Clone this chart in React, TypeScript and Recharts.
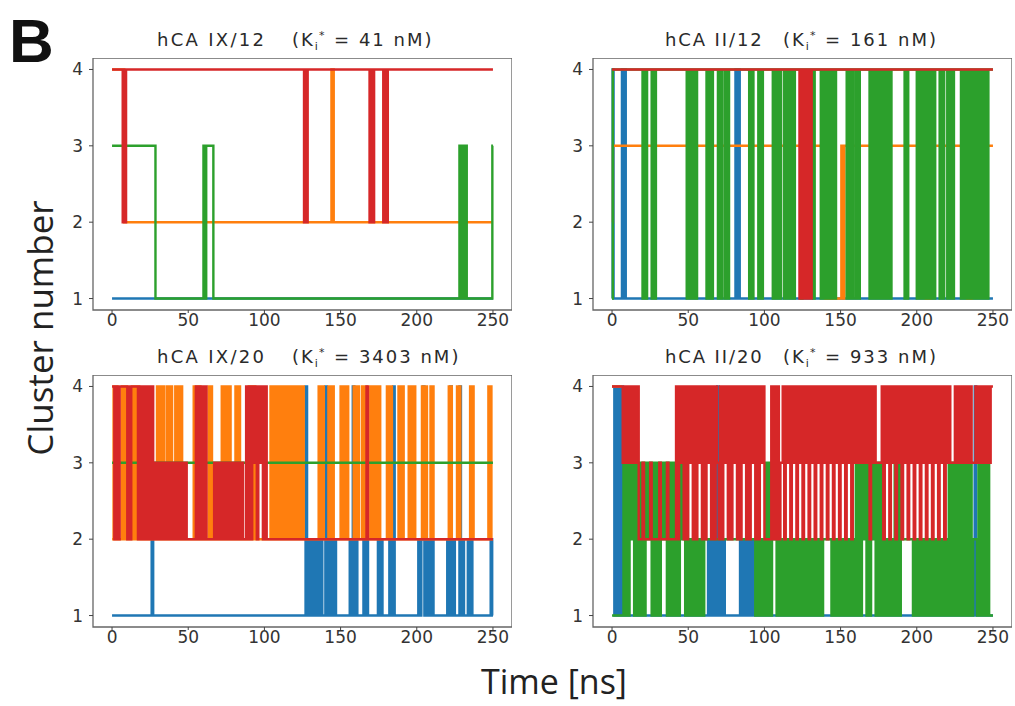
import React from 'react';
import { LineChart, Line, XAxis, YAxis, ReferenceArea } from 'recharts';

type Pt = [number, number];

// axis ticks and series colours (matplotlib tab10 order: blue, orange, green, red)
const xTicks = [0, 50, 100, 150, 200, 250];
const yTicks = [1, 2, 3, 4];
const seriesColors = ['#1f77b4', '#ff7f0e', '#2ca02c', '#d62728'];

const panelNames = ['hCA IX/12', 'hCA II/12', 'hCA IX/20', 'hCA II/20'];
const panelKi = ['41', '161', '3403', '933'];

// cluster number vs time [ns], change points [t, cluster]
// --- hCA IX/12
const ix12Blue: Pt[] = [[0, 1], [250, 1]];
const ix12Orange: Pt[] = [[0, 4], [8, 2], [144, 4], [145.5, 2], [250, 2]];
const ix12Green: Pt[] = [
  [0, 3], [28.5, 1], [60, 3], [61, 1], [61.8, 3], [66.5, 1], [228, 3], [229, 1], [230, 3], [231, 1],
  [232, 3], [232.8, 1], [249.6, 3], [250, 3],
];
const ix12Red: Pt[] = [
  [0, 4], [7, 2], [8, 4], [8.6, 2], [9.2, 4], [126, 2], [127, 4], [127.6, 2], [128.4, 4], [169, 2],
  [170, 4], [171, 2], [172, 4], [178, 2], [179, 4], [180, 2], [181, 4], [250, 4],
];

// --- hCA II/12
const ii12Blue: Pt[] = [
  [0, 1], [0.4, 4], [1, 1], [6.5, 4], [7.3, 1], [8, 4], [9, 1], [81, 4], [82, 1], [82.8, 4], [83.8, 1], [250, 1],
];
const ii12Orange: Pt[] = [
  [0, 2], [0.6, 3], [140, 1], [141, 3], [142, 1], [150.5, 3], [151.5, 1], [152.5, 3], [206, 1], [207, 3],
  [208, 1], [209, 3], [233, 1], [234, 3], [235, 1], [236, 3], [250, 3],
];
const ii12Green: Pt[] = [
  [0, 1], [0.5, 4], [20, 1], [21, 4], [22, 1], [23, 4], [26, 1], [27, 4], [28, 1], [28.8, 4],
  [49, 1], [50, 4], [51, 1], [52, 4], [53, 1], [54, 4], [55, 1], [55.8, 4],
  [62, 1], [63, 4], [63.8, 1], [64.6, 4], [65.4, 1], [66.2, 4], [69.5, 1], [70.5, 4], [71.5, 1], [72.3, 4],
  [74, 1], [75, 4], [76, 1], [76.8, 4], [90, 1], [91, 4], [92, 1], [92.8, 4], [96, 1], [97, 4], [98, 1], [99, 4],
  [105.5, 1], [106.3, 4], [107, 1], [107.8, 4], [108.5, 1], [109.3, 4], [110, 1], [111, 4], [113, 1], [113.8, 4],
  [114.5, 1], [115.3, 4], [116, 1], [116.8, 4], [117.5, 1], [118.3, 4], [119, 1], [120, 4],
  [124, 1], [125, 4], [132, 1], [133, 4],
  [137, 1], [137.8, 4], [138.5, 1], [139.3, 4], [140, 1], [140.8, 4], [141.5, 1], [142.3, 4], [143, 1], [143.8, 4],
  [144.5, 1], [145.3, 4], [146, 1], [147, 4], [154, 1], [155, 4], [156, 1], [157, 4], [157.6, 1], [158.4, 4],
  [160, 1], [161, 4], [161.8, 1], [162.6, 4],
  [169, 1], [169.8, 4], [170.5, 1], [171.3, 4], [172, 1], [172.8, 4], [173.5, 1], [174.3, 4], [175, 1], [175.8, 4],
  [176.5, 1], [177.3, 4], [178, 1], [178.8, 4], [179.5, 1], [180.3, 4], [181, 1], [182, 4], [182.6, 1], [183.4, 4],
  [192, 1], [193, 4], [193.6, 1], [194.4, 4], [200, 1], [201, 4], [202, 1], [203, 4],
  [204.5, 1], [205.3, 4], [206, 1], [206.8, 4], [207.5, 1], [208.3, 4], [209.8, 1], [210.6, 4], [211.3, 1], [212.1, 4],
  [215, 1], [216, 4], [217, 1], [218, 4], [220, 1], [221, 4], [222, 1], [223, 4], [223.6, 1], [224.4, 4],
  [229, 1], [230, 4], [231, 1], [232, 4], [233, 1], [234, 4], [234.6, 1], [235.4, 4], [236.5, 1], [237.3, 4],
  [238, 1], [239, 4], [240, 1], [240.8, 4], [241.5, 1], [242.3, 4], [243, 1], [243.8, 4], [244.5, 1], [245.3, 4],
  [246, 1], [247, 4], [250, 4],
];
const ii12Red: Pt[] = [
  [0, 4], [123, 1], [124, 4], [125, 1], [126, 4], [126.8, 1], [127.6, 4], [128.4, 1], [129.2, 4], [130, 1],
  [131, 4], [250, 4],
];

// --- hCA IX/20
const ix20Blue: Pt[] = [
  [0, 1], [26, 2], [27, 1], [127, 4], [128, 1], [129, 2], [130, 1], [131, 2], [132, 1], [133, 2], [134, 1],
  [135, 2], [136, 1], [137, 2], [138, 1], [140, 4], [141, 1], [142, 2], [143, 1], [144, 2], [145, 1], [146, 2],
  [147, 1], [156, 2], [157, 1], [158, 4], [159, 1], [160, 2], [161, 1], [165, 2], [166, 1], [167, 2], [168, 1],
  [174.5, 2], [175.5, 1], [176.5, 2], [177.5, 1], [182, 2], [183, 1], [184.5, 4], [185.5, 1], [201, 2], [202, 1],
  [203, 2], [204, 4], [205, 1], [206, 2], [207, 1], [208, 2], [209, 1], [210, 2], [211, 1], [220, 2], [221, 1],
  [222, 4], [223, 1], [224, 2], [225, 1], [228, 4], [229, 1], [230, 2], [231, 1], [233.5, 2], [234.5, 1],
  [235.5, 2], [236.5, 1], [248.5, 2], [249.5, 1], [250, 1],
];
const ix20Orange: Pt[] = [
  [0, 2], [1, 4], [2, 2], [2.8, 4], [3.5, 2], [6.5, 4], [7.5, 2], [8.5, 4], [9.8, 2],
  [13, 4], [14, 2], [15, 4], [16, 2], [17, 4], [17.8, 2],
  [29.5, 4], [30.5, 2], [31.5, 4], [32.5, 2], [33.3, 4], [34.2, 2], [36, 4], [37, 2], [38, 4], [39.4, 2],
  [41.5, 4], [42.5, 2], [43.5, 4], [44.5, 2], [45.3, 4], [46, 2],
  [53.6, 4], [54.6, 2], [55.6, 4], [56.6, 2], [57.3, 4], [58, 2], [63.4, 4], [64.4, 2], [65, 4], [65.6, 2],
  [72, 4], [73, 2], [74, 4], [75, 2], [76, 4], [76.8, 2], [77.3, 4], [77.8, 2], [81, 4], [82, 2], [83, 4], [84, 2],
  [89.7, 4], [90.7, 2], [91.7, 4], [92.7, 2], [93.3, 4], [94, 2],
  [104, 4], [105, 2], [106, 4], [107, 2], [108, 4], [109, 2],
  [110.5, 4], [111.5, 2], [112.5, 4], [113.5, 2], [114.3, 4], [115, 2], [115.5, 4], [116.5, 2], [117.5, 4],
  [118.5, 2], [119.5, 4], [120.5, 2], [121.2, 4], [121.6, 2], [122.5, 4], [123.5, 2], [124.5, 4], [125.8, 2],
  [135.6, 4], [136.6, 2], [137.6, 4], [139, 2], [142, 4], [143, 2], [144, 4], [145.5, 2],
  [150, 4], [151, 2], [152, 4], [153, 2], [154, 4], [155, 2], [158.6, 4], [159.6, 2], [160.6, 4], [162, 2],
  [164, 4], [165, 2], [166, 4], [167.3, 2],
  [169.5, 4], [170.5, 2], [171.5, 4], [172.5, 2], [173.5, 4], [174.5, 2], [175.3, 4], [176, 2],
  [180.4, 4], [181.4, 2], [182.4, 4], [183.7, 2], [188, 4], [189, 2], [190, 4], [191.4, 2],
  [194.7, 4], [195.7, 2], [196.7, 4], [197.7, 2], [198.4, 4], [199, 2], [203.4, 4], [204.4, 2], [205.4, 4], [206.7, 2],
  [209, 4], [210, 2], [210.6, 4], [211, 2], [221, 4], [222, 2], [222.6, 4], [223, 2],
  [226.4, 4], [227.4, 2], [228, 4], [228.6, 2], [235, 4], [236, 2], [236.7, 4], [237.3, 2],
  [247, 4], [248, 2], [248.6, 4], [249, 2], [250, 2],
];
const ix20Green: Pt[] = [[0, 3], [250, 3]];
const ix20Red: Pt[] = [
  [0, 4], [1.5, 2], [2.5, 4], [4, 2], [5, 4], [10, 2], [11, 4], [11.8, 2], [12.6, 4],
  [17, 2], [18, 4], [19, 2], [20, 4], [21, 2], [22, 4], [23, 2], [24, 4], [25, 2], [26, 4], [27, 2],
  [28, 3], [29, 2], [30, 3], [31.5, 2], [33, 3], [34, 2], [35.5, 3], [37, 2], [38, 3], [39.5, 2], [41, 3],
  [42, 2], [43, 3], [44.5, 2], [46, 3], [47, 2], [48, 3], [49, 2],
  [55, 4], [56, 2], [57, 4], [58, 2], [59, 4], [60, 2], [61, 4], [62, 2],
  [67, 3], [68, 2], [69, 3], [70, 2], [71, 3], [72, 2], [73, 3], [74, 2], [75, 3], [76, 2], [77, 3], [78, 2],
  [79, 3], [80, 2], [81, 3], [82, 2], [83, 3], [84, 2], [85, 3], [86, 2],
  [88, 4], [89, 2], [90, 4], [91, 2], [92, 4], [93, 3], [94, 4], [95, 2], [96, 4], [97, 3], [98, 4], [99, 2],
  [100, 4], [101.5, 2], [167, 4], [168, 2], [250, 2],
];

// --- hCA II/20
const ii20Blue: Pt[] = [
  [0, 4], [1.5, 1], [2.5, 4], [3.5, 1], [4.5, 4], [5.5, 1], [6.5, 4], [7.2, 1], [63, 2], [64, 1], [65, 2],
  [66, 1], [67, 2], [68, 1], [69, 4], [70, 1], [71, 2], [72, 1], [73, 2], [74, 1], [84, 2], [85, 1], [86, 2],
  [87, 1], [88, 2], [89, 1], [90, 2], [91, 1], [92, 2], [93, 1], [238, 4], [239, 1], [250, 1],
];
const ii20Orange: Pt[] = [[0, 4], [6.5, 4]];
const ii20Green: Pt[] = [
  [0, 1], [7.5, 3], [8.5, 1], [9.5, 3], [10.5, 1], [11.5, 3], [12.5, 2], [13.5, 3], [14.5, 1], [15.5, 3],
  [16.5, 1], [17.5, 3], [19, 1], [20, 3], [21, 1], [22, 3], [23.5, 2], [24.5, 3], [26, 1], [27, 3], [28.5, 1],
  [29.5, 3], [31, 1], [32, 3], [33.5, 2], [34.5, 3], [36, 1], [37, 3], [38.5, 1], [39.5, 3], [41, 1], [42, 3],
  [43.5, 1], [44.5, 3], [46, 2], [47, 3], [48, 1], [49, 2], [50, 1], [51, 2], [52.5, 1], [53.5, 2], [55, 1],
  [56, 2], [57, 1], [58, 2], [59.5, 1], [60.5, 2], [94, 1], [95, 2], [96, 1], [97, 2], [98, 1], [99, 2],
  [100, 1], [101, 3], [102, 1], [103, 3], [104, 1], [105, 3], [106, 2], [107, 3], [108, 1], [109, 2], [110, 1],
  [111, 2], [112.5, 1], [113.5, 2], [115, 1], [116, 2], [117.5, 1], [118.5, 2], [120, 1], [121, 2], [122.5, 1],
  [123.5, 2], [125, 1], [126, 2], [127.5, 1], [128.5, 2], [130, 1], [131, 2], [132.5, 1], [133.5, 2], [135, 1],
  [136, 2], [137, 1], [138.5, 2], [144, 1], [145, 2], [146.5, 1], [147.5, 2], [149, 1], [150, 2], [151.5, 1],
  [152.5, 2], [154, 1], [155, 2], [156.5, 1], [157.5, 2], [159, 1], [160, 3], [161, 1], [162, 3], [163, 1],
  [164, 3], [165, 2], [166, 3], [167, 1], [168, 3], [169, 1], [170, 3], [171, 2], [172, 3], [173, 1], [174, 3],
  [175, 1], [176, 3], [177, 1], [178, 2], [179.5, 1], [180.5, 2], [182, 1], [183, 2], [184.5, 1], [185.5, 3],
  [186.5, 1], [187.5, 3], [188.5, 1], [189.5, 3], [190.5, 2], [197.5, 1], [198.5, 2], [200, 1], [201, 2],
  [202.5, 1], [203.5, 2], [205, 1], [206, 2], [207.5, 1], [208.5, 2], [210, 1], [211, 2], [212.5, 1], [213.5, 2],
  [215, 1], [216, 2], [217.5, 1], [218.5, 2], [220, 1], [221, 3], [222, 1], [223, 3], [224, 1], [225, 3],
  [226, 1], [227, 3], [228, 1], [229, 3], [230, 1], [231, 3], [232, 1], [233, 3], [234, 1], [235, 3], [236, 1],
  [237, 2], [239.5, 1], [240.5, 3], [241.5, 1], [242.5, 3], [243.5, 1], [244.5, 3], [245.5, 1], [246.5, 3],
  [247.5, 1], [250, 1],
];
const ii20Red: Pt[] = [
  [0, 4], [7, 3], [8, 4], [9, 3], [10, 4], [11, 3], [12, 4], [13, 3], [14, 4], [15, 3], [16, 4], [17.5, 2],
  [20, 3], [21, 2], [25, 3], [26, 2], [31, 3], [32, 2], [36, 3], [37, 2],
  [42, 4], [43, 2], [44, 4], [45, 3], [46, 4], [47, 2], [48, 4], [49, 2], [50, 4], [51, 3], [52, 4], [53, 2],
  [54, 4], [55, 2], [56, 4], [57, 3], [58, 4], [59, 2], [60, 4], [61, 2], [62, 4], [63, 3], [64, 4], [65, 2],
  [66, 4], [67, 2], [68, 4], [69, 3], [70, 2], [71, 4], [72, 2], [73, 4], [74, 3], [75, 4], [76, 2], [77, 4],
  [78, 2], [79, 4], [80, 3], [81, 4], [82, 2], [83, 4], [84, 2], [85, 4], [86, 3], [87, 4], [88, 2], [89, 4],
  [90, 2], [91, 4], [92, 3], [93, 4], [94, 2], [95, 4], [96, 2], [97, 4], [98, 3], [99, 4], [100, 2],
  [104.5, 4], [105.5, 2], [106.5, 4], [107.5, 2], [108.5, 4], [109.5, 2], [110.5, 3], [112, 4], [113, 2],
  [114, 4], [115, 3], [116, 4], [117, 2], [118, 4], [119, 3], [120, 4], [121, 2], [122, 4], [123, 3], [124, 4],
  [125, 2], [126, 4], [127, 3], [128, 4], [129, 2], [130, 4], [131, 3], [132, 4], [133, 2], [134, 4], [135, 3],
  [136, 4], [137, 2], [138, 4], [139, 3], [140, 4], [141, 2], [142, 4], [143, 3], [144, 4], [145, 2], [146, 4],
  [147, 3], [148, 4], [149, 2], [150, 4], [151, 3], [152, 4], [153, 2], [154, 4], [155, 3], [156, 4], [157, 2],
  [158, 4], [159, 3], [160, 4], [161, 3], [162, 4], [163, 3], [164, 4], [165, 3], [166, 4], [167, 3], [168, 4],
  [169, 2], [170, 4], [171, 3], [172, 4], [173, 3], [177, 4], [178, 2], [179, 4], [180, 3], [181, 4], [182, 2],
  [183, 4], [184, 3], [185, 4], [186, 2], [187, 4], [188, 3], [189, 4], [190, 2], [191, 4], [192, 3], [193, 4],
  [194, 2], [195, 4], [196, 3], [197, 4], [198, 2], [199, 4], [200, 3], [201, 4], [202, 2], [203, 4], [204, 3],
  [205, 4], [206, 2], [207, 4], [208, 3], [209, 4], [210, 2], [211, 4], [212, 3], [213, 4], [214, 2], [215, 4],
  [216, 3], [217, 4], [218, 2], [219, 4], [220, 3], [221, 4], [222, 3], [225, 4], [226, 3], [227, 4], [228, 3],
  [229, 4], [230, 3], [231, 4], [232, 3], [233, 4], [234, 3], [235, 4], [236, 3], [238.5, 4], [239.5, 3],
  [240.5, 4], [241.5, 3], [242.5, 4], [243.5, 3], [244.5, 4], [245.5, 3], [246.5, 4], [247.5, 3], [248.5, 4],
  [250, 4],
];

const panelSeries: Pt[][][] = [
  [ix12Blue, ix12Orange, ix12Green, ix12Red],
  [ii12Blue, ii12Orange, ii12Green, ii12Red],
  [ix20Blue, ix20Orange, ix20Green, ix20Red],
  [ii20Blue, ii20Orange, ii20Green, ii20Red],
];

const PLOT_W = 419;
const PLOT_H = 252;
const Y_AXIS_W = 45;
const X_AXIS_H = 30;
const panelPos = [
  { left: 93, top: 58, titleY: 46, nameX: 157, kiX: 292 },
  { left: 593, top: 58, titleY: 46, nameX: 665, kiX: 783 },
  { left: 93, top: 375, titleY: 363, nameX: 157, kiX: 292 },
  { left: 593, top: 375, titleY: 363, nameX: 665, kiX: 783 },
];

const tickFont = { fontSize: 17, fill: '#333', fontFamily: 'DejaVu Sans' };

const toRows = (pts: Pt[]) => pts.map(([t, c]) => ({ t, c }));

const Panel = ({ idx }: { idx: number }) => {
  const pos = panelPos[idx];
  return (
    <div style={{ position: 'absolute', left: pos.left - Y_AXIS_W, top: pos.top }}>
      <LineChart
        width={PLOT_W + Y_AXIS_W}
        height={PLOT_H + X_AXIS_H}
        margin={{ top: 0, right: 0, bottom: 0, left: 0 }}
      >
        <XAxis
          type="number"
          dataKey="t"
          domain={[-12.5, 262.5]}
          ticks={xTicks}
          interval={0}
          allowDataOverflow
          axisLine={false}
          tickLine={{ stroke: '#444' }}
          tickSize={3}
          tickMargin={1}
          height={X_AXIS_H}
          tick={tickFont}
        />
        <YAxis
          type="number"
          domain={[0.85, 4.15]}
          ticks={yTicks}
          interval={0}
          allowDataOverflow
          axisLine={false}
          tickLine={{ stroke: '#444' }}
          tickSize={4}
          tickMargin={6}
          width={Y_AXIS_W}
          tick={tickFont}
        />
        <ReferenceArea x1={-12.5} x2={262.5} y1={0.85} y2={4.15} fill="none" stroke="#666" strokeWidth={1.3} />
        {panelSeries[idx].map((s, i) => (
          <Line
            key={i}
            data={toRows(s)}
            dataKey="c"
            type="stepAfter"
            stroke={seriesColors[i]}
            strokeWidth={2.4}
            dot={false}
            activeDot={false}
            isAnimationActive={false}
          />
        ))}
      </LineChart>
    </div>
  );
};

export default function App() {
  return (
    <div style={{ position: 'absolute', left: 0, top: 0, width: 1015, height: 706, background: '#fff', overflow: 'hidden' }}>
      {panelPos.map((_, i) => (
        <Panel key={i} idx={i} />
      ))}
      <svg width={1015} height={706} style={{ position: 'absolute', left: 0, top: 0, pointerEvents: 'none' }}>
        <text x={9} y={62} fontFamily="Liberation Sans" fontWeight="bold" fontSize={62} fill="#111">B</text>
        {panelPos.map((p, i) => (
          <g key={i} fontFamily="DejaVu Sans" fill="#2a2a2a">
            <text x={p.nameX} y={p.titleY} fontSize={18} letterSpacing={i % 2 === 1 ? 1.9 : 2.3}>
              {panelNames[i]}
            </text>
            <text x={p.kiX} y={p.titleY} fontSize={18} letterSpacing={2}>
              (K
              <tspan fontSize={11} dy={4}>i</tspan>
              <tspan fontSize={11} dy={-11} dx={-1}>*</tspan>
              <tspan dy={7}>{` = ${panelKi[i]} nM)`}</tspan>
            </text>
          </g>
        ))}
        <text
          transform="translate(53,328) rotate(-90)"
          textAnchor="middle"
          fontFamily="Open Sans"
          fontSize={35}
          fill="#222"
        >
          Cluster number
        </text>
        <text x={554} y={694} textAnchor="middle" fontFamily="Open Sans" fontSize={34} fill="#222">
          Time [ns]
        </text>
      </svg>
    </div>
  );
}
